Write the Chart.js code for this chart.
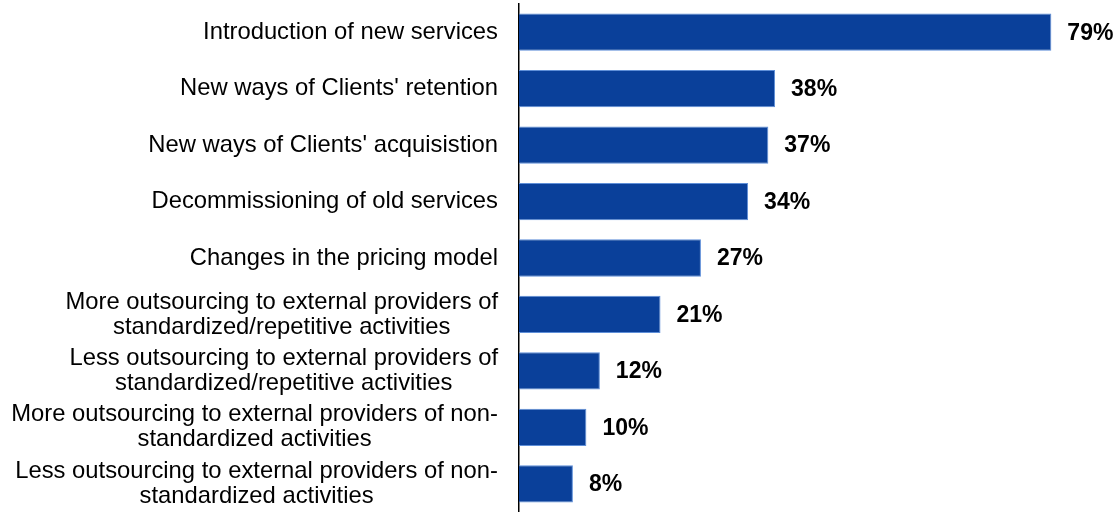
<!DOCTYPE html>
<html>
<head>
<meta charset="utf-8">
<script src="https://cdn.jsdelivr.net/npm/chart.js@4/dist/chart.umd.min.js"></script>
<style>
  html, body { margin: 0; padding: 0; background: #fff; }
  #wrap { width: 1120px; height: 512px; }
</style>
</head>
<body>
<div id="wrap"><canvas id="bars"></canvas></div>
<script>
// categories (multi-line ones split into arrays)
var categories = [
  "Introduction of new services",
  "New ways of Clients' retention",
  "New ways of Clients' acquisistion",
  "Decommissioning of old services",
  "Changes in the pricing model",
  ["More outsourcing to external providers of", "standardized/repetitive activities"],
  ["Less outsourcing to external providers of", "standardized/repetitive activities"],
  ["More outsourcing to external providers of non-", "standardized activities"],
  ["Less outsourcing to external providers of non-", "standardized activities"]
];
var shares = [79, 38, 37, 34, 27, 21, 12, 10, 8];

var labelFont = '23.8px "Liberation Sans", Arial, sans-serif';
var valueFont = 'bold 23px "Liberation Sans", Arial, sans-serif';

// category names: block right-aligned to the axis, lines centred within the block
var catLabels = {
  id: 'catLabels',
  afterDraw: function(chart) {
    var ctx = chart.ctx;
    var y = chart.scales.y;
    var right = chart.chartArea.left - 21;
    var lineH = 25;
    ctx.save();
    ctx.font = labelFont;
    ctx.fillStyle = '#000';
    ctx.textAlign = 'center';
    ctx.textBaseline = 'middle';
    categories.forEach(function(lab, i) {
      var lines = Array.isArray(lab) ? lab : [lab];
      var w = 0;
      lines.forEach(function(l) { w = Math.max(w, ctx.measureText(l).width); });
      var cx = right - w / 2;
      var cy = y.getPixelForTick(i);
      var y0 = cy - (lines.length - 1) * lineH / 2;
      lines.forEach(function(l, k) { ctx.fillText(l, cx, y0 + k * lineH); });
    });
    ctx.restore();
  }
};

// percent labels after each bar
var valueLabels = {
  id: 'valueLabels',
  afterDatasetsDraw: function(chart) {
    var ctx = chart.ctx;
    var meta = chart.getDatasetMeta(0);
    ctx.save();
    ctx.font = valueFont;
    ctx.fillStyle = '#000';
    ctx.textAlign = 'left';
    ctx.textBaseline = 'middle';
    meta.data.forEach(function(bar, i) {
      ctx.fillText(shares[i] + '%', bar.x + 16, bar.y + 1);
    });
    ctx.restore();
  }
};

var ctx = document.getElementById('bars').getContext('2d');
var chart = new Chart(ctx, {
  type: 'bar',
  data: {
    labels: categories,
    datasets: [{
      data: shares,
      backgroundColor: '#0a409a',
      borderColor: '#5f8fd8',
      borderWidth: 1,
      borderSkipped: 'left',
      barPercentage: 0.66,
      categoryPercentage: 1
    }]
  },
  options: {
    indexAxis: 'y',
    responsive: true,
    maintainAspectRatio: false,
    animation: false,
    layout: { padding: { top: 4, right: 8, bottom: 0, left: 0 } },
    plugins: {
      legend: { display: false },
      tooltip: { enabled: false }
    },
    scales: {
      x: {
        display: false,
        min: 0,
        max: 88
      },
      y: {
        afterFit: function(scale) { scale.width = 519; },
        grid: { display: false, drawTicks: false },
        border: { display: true, color: '#000', width: 1.5 },
        ticks: { display: false }
      }
    }
  },
  plugins: [catLabels, valueLabels]
});
</script>
</body>
</html>
